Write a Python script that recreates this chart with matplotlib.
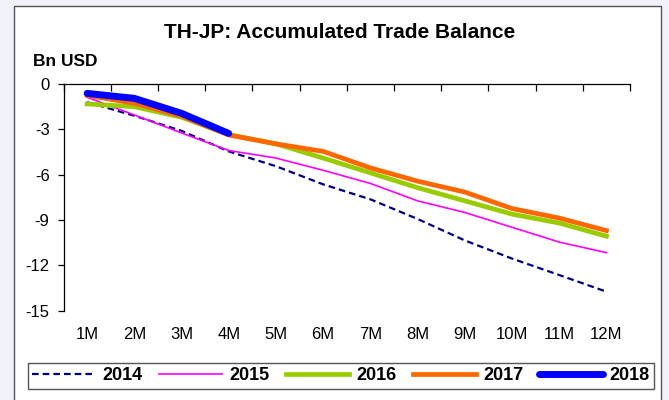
import matplotlib
matplotlib.use("Agg")
import matplotlib.pyplot as plt
from matplotlib.patches import Rectangle
from matplotlib.ticker import FixedLocator, NullFormatter

plt.rcParams["font.family"] = ["Liberation Sans", "DejaVu Sans"]

months = ["1M", "2M", "3M", "4M", "5M", "6M", "7M", "8M", "9M", "10M", "11M", "12M"]

# accumulated trade balance, Bn USD
tb_2014 = [-1.2, -2.1, -3.1, -4.46, -5.44, -6.64, -7.63, -8.93, -10.35, -11.55, -12.64, -13.74]
tb_2015 = [-0.88, -2.05, -3.24, -4.40, -4.90, -5.71, -6.58, -7.73, -8.50, -9.48, -10.46, -11.16]
tb_2016 = [-1.32, -1.50, -2.20, -3.35, -3.96, -4.90, -5.88, -6.86, -7.73, -8.61, -9.20, -10.07]
tb_2017 = [-0.75, -1.28, -2.12, -3.37, -3.96, -4.46, -5.55, -6.43, -7.15, -8.24, -8.87, -9.70]
tb_2018 = [-0.62, -0.95, -1.94, -3.27]

fig = plt.figure(figsize=(6.69, 4.0), dpi=100, facecolor="#f2f2fa")

# white chart panel with grey frame, kept behind the axes
fig.patches.append(Rectangle((14 / 669, -0.05), (661 - 14) / 669, 1.05 - 6 / 400,
                             transform=fig.transFigure, facecolor="white",
                             edgecolor="#555555", linewidth=1.0, zorder=-1))

ax = fig.add_axes([63.5 / 669, 1 - 310.7 / 400, (630 - 63.5) / 669, (310.7 - 84) / 400])
ax.set_facecolor("none")

x = list(range(1, 13))
ax.plot(x, tb_2014, color="#000080", lw=1.6, ls=(0, (3, 1.8)), label="2014")
ax.plot(x, tb_2015, color="#ff00ff", lw=1.2, label="2015")
ax.plot(x, tb_2016, color="#99cc00", lw=3.4, label="2016")
ax.plot(x, tb_2017, color="#ff6600", lw=3.4, label="2017")
ax.plot(x[:len(tb_2018)], tb_2018, color="#0000ff", lw=5,
        solid_capstyle="round", label="2018")

ax.set_xlim(0.5, 12.5)
ax.set_ylim(-15, 0)

for side in ["right", "bottom"]:
    ax.spines[side].set_visible(False)
for side in ["left", "top"]:
    ax.spines[side].set_color("black")
    ax.spines[side].set_linewidth(0.9)

# category boundary ticks hang from the zero line, labels sit below the plot
ax.xaxis.set_major_locator(FixedLocator([i + 0.5 for i in range(0, 13)]))
ax.xaxis.set_major_formatter(NullFormatter())
ax.xaxis.set_minor_locator(FixedLocator(x))
ax.set_xticklabels(months, minor=True)
ax.tick_params(axis="x", which="major", top=True, bottom=False, direction="in",
               length=5, width=0.9)
ax.tick_params(axis="x", which="minor", top=False, bottom=True, length=0,
               labelsize=12, pad=12)

ax.set_yticks([0, -3, -6, -9, -12, -15])
ax.set_yticklabels(["0", "-3", "-6", "-9", "-12", "-15"])
ax.tick_params(axis="y", direction="out", length=4, width=0.9, labelsize=12, pad=6)

fig.text(0.508, 1 - 33 / 400, "TH-JP: Accumulated Trade Balance", ha="center",
         va="center", fontsize=15, fontweight="bold")
fig.text(33 / 669, 1 - 61 / 400, "Bn USD", ha="left", va="center",
         fontsize=12.5, fontweight="bold")

leg = fig.legend(loc="center", bbox_to_anchor=(341 / 669, 1 - 376 / 400), ncol=5,
                 fancybox=False, edgecolor="#555555", framealpha=1,
                 prop={"weight": "bold", "size": 13}, handlelength=3.5,
                 handletextpad=0.4, columnspacing=0.9, borderpad=0.25)
leg.get_frame().set_linewidth(1.0)

plt.savefig("out.png", dpi=100, facecolor=fig.get_facecolor())
